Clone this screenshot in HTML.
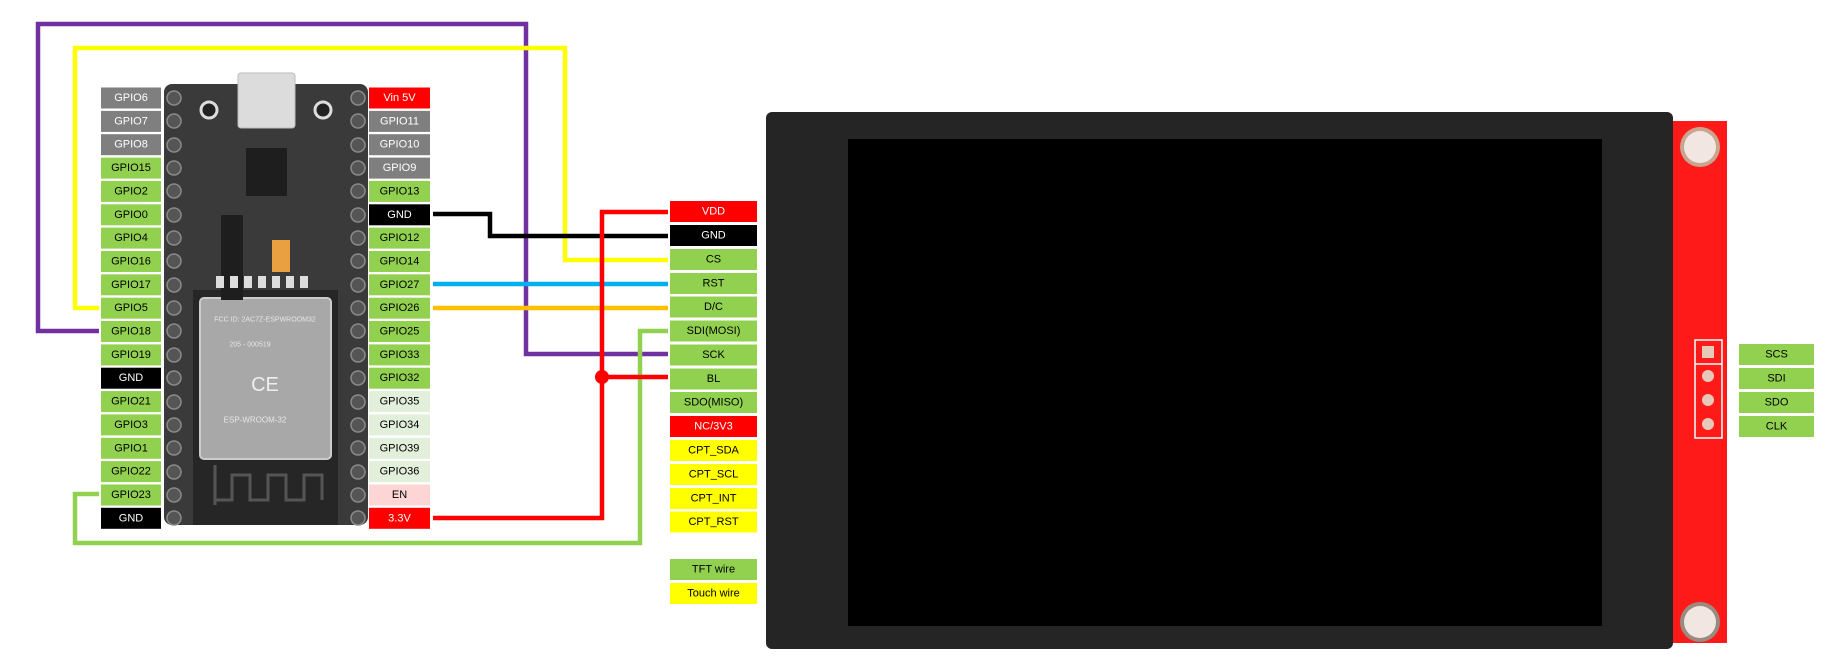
<!DOCTYPE html>
<html><head><meta charset="utf-8"><style>
html,body{margin:0;padding:0;background:#fff;}
svg{display:block;}
text{font-family:"Liberation Sans",sans-serif;font-size:11px;text-anchor:middle;dominant-baseline:central;}
</style></head><body>
<svg width="1848" height="662" viewBox="0 0 1848 662" xmlns="http://www.w3.org/2000/svg">
<!-- ESP32 board -->
<rect x="164" y="84" width="204" height="441" rx="8" fill="#3a3a3a"/>
<rect x="193" y="290" width="145" height="235" fill="#262626"/>
<rect x="200" y="298" width="131" height="161" rx="4" fill="#a8a8a8" stroke="#ccc" stroke-width="2"/>
<text x="265" y="320" fill="#e6e6e6" style="font-size:7px">FCC ID: 2AC7Z-ESPWROOM32</text>
<text x="250" y="345" fill="#e6e6e6" style="font-size:7px">205 - 000519</text>
<text x="265" y="385" fill="#eee" style="font-size:20px">CE</text>
<text x="255" y="420" fill="#e6e6e6" style="font-size:8px">ESP-WROOM-32</text>
<path d="M215 505 V465 M215 500 H232 V475 H250 V500 H268 V475 H286 V500 H304 V475 H322 V500" stroke="#555" stroke-width="3" fill="none"/>
<rect x="238" y="73" width="57" height="55" rx="3" fill="#dcdcdc" stroke="#bbb"/>
<rect x="246" y="148" width="41" height="48" fill="#1e1e1e"/>
<circle cx="209" cy="110" r="8" fill="#222" stroke="#ddd" stroke-width="3"/>
<circle cx="323" cy="110" r="8" fill="#222" stroke="#ddd" stroke-width="3"/>
<rect x="221" y="215" width="22" height="85" fill="#1e1e1e"/>
<rect x="272" y="240" width="18" height="32" fill="#e8a040"/>
<g fill="#ddd"><rect x="216" y="276" width="8" height="12"/><rect x="230" y="276" width="8" height="12"/><rect x="244" y="276" width="8" height="12"/><rect x="258" y="276" width="8" height="12"/><rect x="272" y="276" width="8" height="12"/><rect x="286" y="276" width="8" height="12"/><rect x="300" y="276" width="8" height="12"/></g>
<g fill="#555" stroke="#8a8a8a" stroke-width="1.5">
<circle cx="174" cy="98" r="7"/><circle cx="174" cy="121" r="7"/><circle cx="174" cy="145" r="7"/><circle cx="174" cy="168" r="7"/><circle cx="174" cy="191" r="7"/><circle cx="174" cy="215" r="7"/><circle cx="174" cy="238" r="7"/><circle cx="174" cy="261" r="7"/><circle cx="174" cy="285" r="7"/><circle cx="174" cy="308" r="7"/><circle cx="174" cy="331" r="7"/><circle cx="174" cy="355" r="7"/><circle cx="174" cy="378" r="7"/><circle cx="174" cy="402" r="7"/><circle cx="174" cy="425" r="7"/><circle cx="174" cy="448" r="7"/><circle cx="174" cy="472" r="7"/><circle cx="174" cy="495" r="7"/><circle cx="174" cy="518" r="7"/>
<circle cx="358" cy="98" r="7"/><circle cx="358" cy="121" r="7"/><circle cx="358" cy="145" r="7"/><circle cx="358" cy="168" r="7"/><circle cx="358" cy="191" r="7"/><circle cx="358" cy="215" r="7"/><circle cx="358" cy="238" r="7"/><circle cx="358" cy="261" r="7"/><circle cx="358" cy="285" r="7"/><circle cx="358" cy="308" r="7"/><circle cx="358" cy="331" r="7"/><circle cx="358" cy="355" r="7"/><circle cx="358" cy="378" r="7"/><circle cx="358" cy="402" r="7"/><circle cx="358" cy="425" r="7"/><circle cx="358" cy="448" r="7"/><circle cx="358" cy="472" r="7"/><circle cx="358" cy="495" r="7"/><circle cx="358" cy="518" r="7"/>
</g>

<!-- Left labels -->
<g>
<rect x="101" y="87.5" width="60" height="21" fill="#7f7f7f"/><text x="131" y="98" fill="#fff">GPIO6</text>
<rect x="101" y="110.9" width="60" height="21" fill="#7f7f7f"/><text x="131" y="121.4" fill="#fff">GPIO7</text>
<rect x="101" y="134.2" width="60" height="21" fill="#7f7f7f"/><text x="131" y="144.7" fill="#fff">GPIO8</text>
<rect x="101" y="157.6" width="60" height="21" fill="#92d050"/><text x="131" y="168.1">GPIO15</text>
<rect x="101" y="180.9" width="60" height="21" fill="#92d050"/><text x="131" y="191.4">GPIO2</text>
<rect x="101" y="204.3" width="60" height="21" fill="#92d050"/><text x="131" y="214.8">GPIO0</text>
<rect x="101" y="227.6" width="60" height="21" fill="#92d050"/><text x="131" y="238.1">GPIO4</text>
<rect x="101" y="251" width="60" height="21" fill="#92d050"/><text x="131" y="261.5">GPIO16</text>
<rect x="101" y="274.3" width="60" height="21" fill="#92d050"/><text x="131" y="284.8">GPIO17</text>
<rect x="101" y="297.7" width="60" height="21" fill="#92d050"/><text x="131" y="308.2">GPIO5</text>
<rect x="101" y="321" width="60" height="21" fill="#92d050"/><text x="131" y="331.5">GPIO18</text>
<rect x="101" y="344.4" width="60" height="21" fill="#92d050"/><text x="131" y="354.9">GPIO19</text>
<rect x="101" y="367.7" width="60" height="21" fill="#000"/><text x="131" y="378.2" fill="#fff">GND</text>
<rect x="101" y="391.1" width="60" height="21" fill="#92d050"/><text x="131" y="401.6">GPIO21</text>
<rect x="101" y="414.4" width="60" height="21" fill="#92d050"/><text x="131" y="424.9">GPIO3</text>
<rect x="101" y="437.8" width="60" height="21" fill="#92d050"/><text x="131" y="448.3">GPIO1</text>
<rect x="101" y="461.1" width="60" height="21" fill="#92d050"/><text x="131" y="471.6">GPIO22</text>
<rect x="101" y="484.5" width="60" height="21" fill="#92d050"/><text x="131" y="495">GPIO23</text>
<rect x="101" y="507.8" width="60" height="21" fill="#000"/><text x="131" y="518.3" fill="#fff">GND</text>
</g>
<!-- Right labels -->
<g>
<rect x="369" y="87.5" width="61" height="21" fill="#ff0000"/><text x="399.5" y="98" fill="#fff">Vin 5V</text>
<rect x="369" y="110.9" width="61" height="21" fill="#7f7f7f"/><text x="399.5" y="121.4" fill="#fff">GPIO11</text>
<rect x="369" y="134.2" width="61" height="21" fill="#7f7f7f"/><text x="399.5" y="144.7" fill="#fff">GPIO10</text>
<rect x="369" y="157.6" width="61" height="21" fill="#7f7f7f"/><text x="399.5" y="168.1" fill="#fff">GPIO9</text>
<rect x="369" y="180.9" width="61" height="21" fill="#92d050"/><text x="399.5" y="191.4">GPIO13</text>
<rect x="369" y="204.3" width="61" height="21" fill="#000"/><text x="399.5" y="214.8" fill="#fff">GND</text>
<rect x="369" y="227.6" width="61" height="21" fill="#92d050"/><text x="399.5" y="238.1">GPIO12</text>
<rect x="369" y="251" width="61" height="21" fill="#92d050"/><text x="399.5" y="261.5">GPIO14</text>
<rect x="369" y="274.3" width="61" height="21" fill="#92d050"/><text x="399.5" y="284.8">GPIO27</text>
<rect x="369" y="297.7" width="61" height="21" fill="#92d050"/><text x="399.5" y="308.2">GPIO26</text>
<rect x="369" y="321" width="61" height="21" fill="#92d050"/><text x="399.5" y="331.5">GPIO25</text>
<rect x="369" y="344.4" width="61" height="21" fill="#92d050"/><text x="399.5" y="354.9">GPIO33</text>
<rect x="369" y="367.7" width="61" height="21" fill="#92d050"/><text x="399.5" y="378.2">GPIO32</text>
<rect x="369" y="391.1" width="61" height="21" fill="#e2efda"/><text x="399.5" y="401.6">GPIO35</text>
<rect x="369" y="414.4" width="61" height="21" fill="#e2efda"/><text x="399.5" y="424.9">GPIO34</text>
<rect x="369" y="437.8" width="61" height="21" fill="#e2efda"/><text x="399.5" y="448.3">GPIO39</text>
<rect x="369" y="461.1" width="61" height="21" fill="#e2efda"/><text x="399.5" y="471.6">GPIO36</text>
<rect x="369" y="484.5" width="61" height="21" fill="#fcd5d4"/><text x="399.5" y="495">EN</text>
<rect x="369" y="507.8" width="61" height="21" fill="#ff0000"/><text x="399.5" y="518.3" fill="#fff">3.3V</text>
</g>

<!-- Wires -->
<g fill="none" stroke-width="4.5">
<polyline points="99,331 38,331 38,24 526,24 526,354 668,354" stroke="#7030a0"/>
<polyline points="99,308 75,308 75,48 565,48 565,260 668,260" stroke="#ffff00"/>
<polyline points="433,214 490,214 490,236 668,236" stroke="#000"/>
<polyline points="433,284 668,284" stroke="#00b0f0"/>
<polyline points="433,308 668,308" stroke="#ffc000"/>
<polyline points="99,494 75,494 75,543 640,543 640,331 668,331" stroke="#92d050"/>
<polyline points="433,518 602,518 602,212 668,212" stroke="#ff0000"/>
<polyline points="602,377 668,377" stroke="#ff0000"/>
</g>
<circle cx="602" cy="377" r="7" fill="#ff0000"/>

<!-- TFT labels -->
<g>
<rect x="670" y="201" width="87" height="21" fill="#ff0000"/><text x="713.5" y="211.5" fill="#fff">VDD</text>
<rect x="670" y="225" width="87" height="21" fill="#000"/><text x="713.5" y="235.5" fill="#fff">GND</text>
<rect x="670" y="249" width="87" height="21" fill="#92d050"/><text x="713.5" y="259.5">CS</text>
<rect x="670" y="273" width="87" height="21" fill="#92d050"/><text x="713.5" y="283.5">RST</text>
<rect x="670" y="296.5" width="87" height="21" fill="#92d050"/><text x="713.5" y="307">D/C</text>
<rect x="670" y="320.5" width="87" height="21" fill="#92d050"/><text x="713.5" y="331">SDI(MOSI)</text>
<rect x="670" y="344.5" width="87" height="21" fill="#92d050"/><text x="713.5" y="355">SCK</text>
<rect x="670" y="368.5" width="87" height="21" fill="#92d050"/><text x="713.5" y="379">BL</text>
<rect x="670" y="392" width="87" height="21" fill="#92d050"/><text x="713.5" y="402.5">SDO(MISO)</text>
<rect x="670" y="416" width="87" height="21" fill="#ff0000"/><text x="713.5" y="426.5" fill="#fff">NC/3V3</text>
<rect x="670" y="440" width="87" height="21" fill="#ffff00"/><text x="713.5" y="450.5">CPT_SDA</text>
<rect x="670" y="464" width="87" height="21" fill="#ffff00"/><text x="713.5" y="474.5">CPT_SCL</text>
<rect x="670" y="488" width="87" height="21" fill="#ffff00"/><text x="713.5" y="498.5">CPT_INT</text>
<rect x="670" y="511.5" width="87" height="21" fill="#ffff00"/><text x="713.5" y="522">CPT_RST</text>
<rect x="670" y="559" width="87" height="21" fill="#92d050"/><text x="713.5" y="569.5">TFT wire</text>
<rect x="670" y="583" width="87" height="21" fill="#ffff00"/><text x="713.5" y="593.5">Touch wire</text>
</g>

<!-- Display -->
<rect x="1668" y="121" width="59" height="522" fill="#ff1a1a"/>
<circle cx="1700" cy="147" r="20" fill="#c9a58f"/><circle cx="1700" cy="147" r="16" fill="#f2e6e2"/>
<circle cx="1700" cy="622" r="20" fill="#9a8a80"/><circle cx="1700" cy="622" r="16" fill="#f2e6e2"/>
<rect x="766" y="112" width="907" height="537" rx="6" fill="#252525"/>
<rect x="848" y="139" width="754" height="487" fill="#000"/>
<rect x="1695" y="340" width="27" height="98" fill="none" stroke="#fff" stroke-width="1.5"/>
<line x1="1695" y1="364" x2="1722" y2="364" stroke="#fff" stroke-width="1.5"/>
<g fill="#e6c9b8"><rect x="1702" y="346" width="12" height="12"/><circle cx="1708" cy="376" r="6"/><circle cx="1708" cy="400" r="6"/><circle cx="1708" cy="424" r="6"/></g>
<g>
<rect x="1739" y="344" width="75" height="21" fill="#92d050"/><text x="1776.5" y="354.5">SCS</text>
<rect x="1739" y="368" width="75" height="21" fill="#92d050"/><text x="1776.5" y="378.5">SDI</text>
<rect x="1739" y="392" width="75" height="21" fill="#92d050"/><text x="1776.5" y="402.5">SDO</text>
<rect x="1739" y="416" width="75" height="21" fill="#92d050"/><text x="1776.5" y="426.5">CLK</text>
</g>
</svg>
</body></html>
